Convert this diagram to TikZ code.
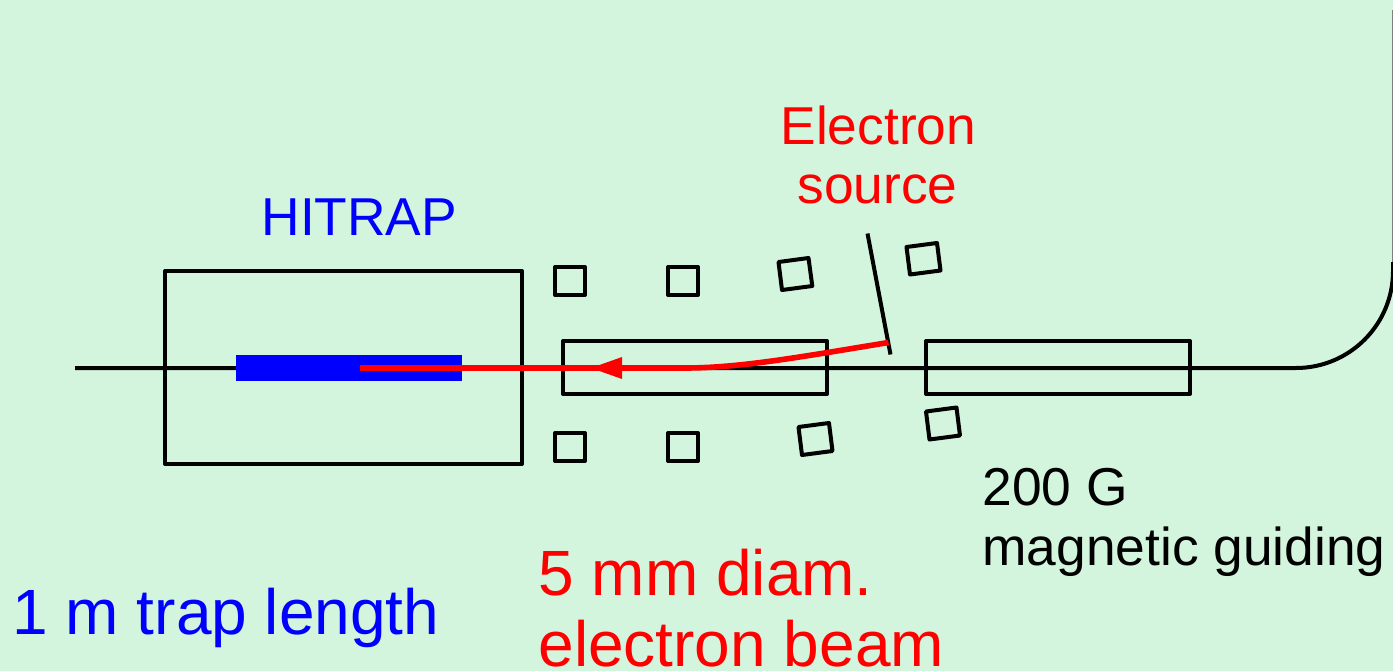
\documentclass[tikz,border=0pt]{standalone}
\usepackage{fontspec}
\setmainfont{Liberation Sans}
\usetikzlibrary{arrows.meta}
\definecolor{bgmint}{RGB}{211,245,221}
\tikzset{
  x=0.75pt,y=-0.75pt,
  part/.style={draw=black,line width=3pt,line join=round},
  wire/.style={draw=black,line width=3pt},
  beam/.style={draw=red,line width=4.2pt},
  lbl/.style={inner sep=0pt,outer sep=0pt,anchor=base west},
  big/.style={lbl,font=\fontsize{48}{57}\selectfont},
  small/.style={lbl,font=\fontsize{40}{47}\selectfont},
}
\begin{document}
\begin{tikzpicture}
\useasboundingbox (0,0) rectangle (1393,671);
\fill[bgmint] (0,0) rectangle (1393,671);
% guide wire
\coordinate (wireL) at (75,368);
\coordinate (wireB) at (1296,368);
\coordinate (wireC) at (1393,271);
\coordinate (wireE) at (1393,262);
\coordinate (wireT) at (1392.7,10);
\coordinate (wireM) at (1392.7,262);
\draw[wire] (wireL) -- (wireB) .. controls (1349.6,368) and (1393,324.6) .. (wireC) -- (wireE);
\draw[draw=black!50,line width=0.5pt] (wireM) -- (wireT);
% HITRAP
\draw[part] (165,271) rectangle (522,464);
\fill[blue] (236,355) rectangle (462,381);
% solenoid sections
\draw[part] (563,341) rectangle (827,394);
\draw[part] (926,341) rectangle (1190,394);
% coils
\draw[part] (555,267) rectangle (585,295);
\draw[part] (668,267) rectangle (698,295);
\draw[part] (555,433) rectangle (585,461);
\draw[part] (668,433) rectangle (698,461);
\draw[part] (778.5,262) -- (808.5,258) -- (812.3,286) -- (782,290) -- cycle;
\draw[part] (906.5,247) -- (937,243) -- (940.5,270.5) -- (910,274.5) -- cycle;
\draw[part] (798.5,427) -- (829,423) -- (832.5,451) -- (802,455) -- cycle;
\draw[part] (926,411.5) -- (956.5,407.5) -- (960,435.5) -- (929.5,439.5) -- cycle;
% source plate
\coordinate (plateT) at (867.5,233.5);
\coordinate (plateB) at (890.5,354.5);
\draw[wire,line cap=butt] (plateT) -- (plateB);
% electron beam
\coordinate (beamS) at (888.5,342.5);
\coordinate (beamE) at (360,368);
\coordinate (tip) at (591,368);
\draw[beam] (beamS) .. controls (800,357) and (740,368) .. (685,368) -- (beamE);
\fill[red] (tip) -- (622,357) -- (622,379) -- cycle;
% labels
\node[small,text=red] (electron) at (780.5,144) {Electron};
\node[small,text=red] (source) at (797.5,203) {source};
\node[small,text=blue] (hitrap) at (261.5,235.5) {HITRAP};
\node[small] (g200) at (982.5,505) {200 G};
\node[small] (guiding) at (982.5,565.5) {magnetic guiding};
\node[big,text=red] (diam) at (538.5,595.5) {5 mm diam.};
\node[big,text=red] (ebeam) at (538.5,666) {electron beam};
\node[big,text=blue] (trap) at (12.5,634.5) {1 m trap length};
\end{tikzpicture}
\end{document}
